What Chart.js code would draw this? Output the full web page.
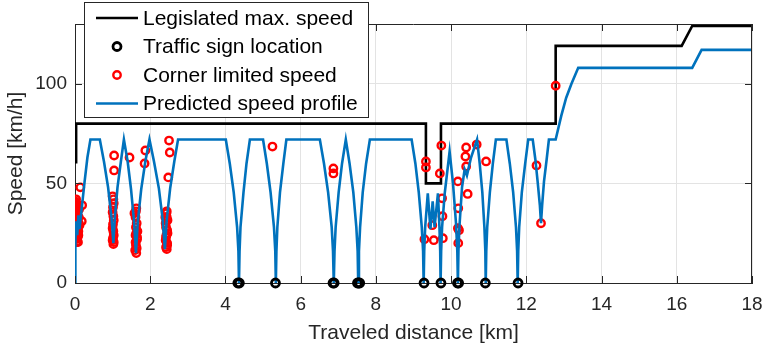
<!DOCTYPE html>
<html>
<head>
<meta charset="utf-8">
<title>Speed profile</title>
<script src="https://cdn.jsdelivr.net/npm/chart.js@4.4.1/dist/chart.umd.min.js"></script>
<style>
    html, body { margin: 0; padding: 0; background: #fff; }
    #wrap { position: relative; width: 764px; height: 349px; }
</style>
</head>
<body>
<div id="wrap"><canvas id="speedChart" width="764" height="349"></canvas></div>
<script>
(function() {
    'use strict';

    // Legislated max. speed (step line)
    var legalX = [0.03, 0.03, 9.33, 9.33, 9.73, 9.73, 12.78, 12.78, 16.13, 16.41, 18];
    var legalY = [60, 80, 80, 50, 50, 80, 80, 119, 119, 129, 129];

    // Predicted speed profile
    var profileX = [
        0, 0.01, 0.03, 0.06, 0.09, 0.12, 0.17, 0.25, 0.33, 0.41,
        0.66, 0.77, 0.88, 0.97, 1.02, 1.06, 1.13, 1.22, 1.30,
        1.40, 1.49, 1.57, 1.62, 1.67, 1.76, 1.87, 1.98,
        2.10, 2.23, 2.33, 2.39, 2.44, 2.53, 2.64, 2.74,
        4.01, 4.115, 4.22, 4.31, 4.345, 4.36, 4.375, 4.40, 4.48, 4.56, 4.65,
        5.00, 5.10, 5.20, 5.29, 5.325, 5.34, 5.355, 5.38, 5.45, 5.54, 5.62,
        6.51, 6.62, 6.73, 6.825, 6.86, 6.88, 6.90, 6.93, 7.01, 7.10, 7.20,
        7.30, 7.40, 7.48, 7.515, 7.53, 7.55, 7.58, 7.65, 7.74, 7.84,
        8.95, 9.05, 9.14, 9.22, 9.255, 9.27, 9.285, 9.31, 9.38,
        9.45, 9.51, 9.56, 9.65, 9.69, 9.71, 9.72, 9.735, 9.76, 9.83, 9.96,
        10.05, 10.13, 10.165, 10.18, 10.195, 10.22, 10.29, 10.36, 10.42, 10.53, 10.69,
        10.76, 10.83, 10.885, 10.91, 10.92, 10.935, 10.96, 11.03, 11.11, 11.19,
        11.47, 11.56, 11.65, 11.725, 11.755, 11.77, 11.785, 11.81, 11.88, 11.97, 12.05,
        12.17, 12.24, 12.30, 12.36, 12.39, 12.42, 12.47, 12.54, 12.60,
        12.78, 12.93, 13.06, 13.20, 13.38, 16.41, 16.66, 18
    ];
    var profileY = [
        0, 20, 31, 24, 34, 27, 36, 50, 63, 72,
        72, 61, 48, 33, 20, 33, 48, 61, 72,
        61, 47, 31, 15, 31, 47, 61, 72,
        61, 47.5, 32, 17, 32, 47.5, 61, 72,
        72, 60, 45.5, 28, 16, 0, 16, 28, 45.5, 60, 72,
        72, 60, 45.5, 28, 16, 0, 16, 28, 45.5, 60, 72,
        72, 60, 45.5, 28, 16, 0, 16, 28, 45.5, 60, 72,
        60, 45.5, 28, 16, 0, 16, 28, 45.5, 60, 72,
        72, 60, 45.5, 28, 16, 0, 16, 28, 45,
        27, 41, 28, 45, 28, 16, 0, 16, 28, 45, 66,
        50, 30, 16, 0, 16, 28, 48, 57, 54, 63, 72,
        60, 45.5, 28, 16, 0, 16, 28, 45.5, 60, 72,
        72, 60, 45.5, 28, 16, 0, 16, 28, 45.5, 60, 72,
        72, 62, 51, 39, 30, 39, 51, 62, 72,
        72, 84, 93, 100, 108, 108, 117, 117
    ];

    // Traffic sign locations (speed 0)
    var signX = [4.33, 4.37, 5.33, 6.86, 6.89, 7.51, 7.54, 7.57, 9.28, 9.73, 10.17, 10.2, 10.91, 11.78];

    // Corner limited speeds
    var cornerX = [
        0.00, 0.03, 0.05, 0.01, 0.04, 0.00, 0.03, 0.06, 0.02, 0.05, 0.08, 0.10, 0.09, 0.07, 0.14, 0.19, 0.18,
        0.00, 0.02, 0.04, 0.00, 0.03, 0.06, 0.01, 0.04, 0.07, 0.02, 0.05, 0.09, 0.10, 0.12, 0.11, 0.03, 0.08,
        1.04, 1.04, 1.00, 1.03, 1.00, 1.03, 1.00, 1.03, 1.00, 1.02, 1.45,
        1.01, 1.02, 1.01, 1.02, 1.01, 1.03, 1.02,
        1.63, 1.58, 1.62, 1.66, 1.61, 1.65, 1.62, 1.60, 1.63, 1.87, 1.85,
        1.61, 1.64, 1.63, 1.61, 1.64, 1.62, 1.65,
        2.50, 2.52, 2.48, 2.43, 2.40, 2.46, 2.42, 2.46, 2.42, 2.45, 2.42, 2.44,
        2.44, 2.41, 2.45, 2.43, 2.41, 2.45, 2.44,
        5.25, 6.87, 6.87,
        9.33, 9.33, 9.74, 9.70, 9.76, 9.77, 9.78, 9.29, 9.54, 9.50,
        10.18, 10.19, 10.18, 10.21, 10.19, 10.40, 10.38, 10.40, 10.44, 10.68, 10.93,
        12.27, 12.39, 12.78
    ];
    var cornerY = [
        41, 39.5, 37, 34.5, 32, 29.5, 27.5, 25.5, 23, 21, 20.5, 30, 24, 34, 48, 39, 31,
        40, 38, 36, 33, 31, 29, 27, 25, 23, 22, 20.5, 26, 33, 29, 37, 42, 39,
        64, 56.5, 43.5, 40, 35.5, 31.5, 27.5, 24, 21.5, 19.5, 63,
        38, 33.5, 29.5, 26, 22.5, 20.5, 42,
        37.5, 35, 28, 26, 24, 22, 19, 16.5, 15, 66.5, 60,
        33, 30, 25, 20.5, 17.5, 36, 23,
        71.5, 65.5, 53, 35, 33, 31.5, 28, 25, 23, 20, 18, 17,
        33, 30, 26.5, 24, 21.5, 19, 36,
        68.5, 57.5, 55,
        61, 58, 69, 55, 42.5, 33.5, 22.5, 22, 21.5, 29,
        51, 37.5, 27.5, 26.5, 20, 68, 63.5, 58.5, 44.7, 69.5, 61,
        59, 30, 99
    ];

    var yTicks = [0, 50, 100];

    var FONT = "'Liberation Sans', Arial, Helvetica, sans-serif";
    var AXIS = '#262626';

    function toPoints(xs, ys) {
        return xs.map(function(x, i) { return { x: x, y: ys[i] }; });
    }

    // MATLAB-like box: top/right edges and inward tick marks
    var framePlugin = {
        id: 'frame',
        afterDraw: function(chart) {
            var ctx = chart.ctx;
            var a = chart.chartArea;
            var xs = chart.scales.x;
            var ys = chart.scales.y;
            var len = 7;
            ctx.save();
            ctx.strokeStyle = AXIS;
            ctx.lineWidth = 1;
            ctx.beginPath();
            ctx.moveTo(a.left, a.top + 0.5);
            ctx.lineTo(a.right, a.top + 0.5);
            ctx.moveTo(a.right - 0.5, a.top);
            ctx.lineTo(a.right - 0.5, a.bottom);
            xs.ticks.forEach(function(t) {
                var px = Math.round(xs.getPixelForValue(t.value)) + 0.5;
                ctx.moveTo(px, a.bottom);
                ctx.lineTo(px, a.bottom - len);
                ctx.moveTo(px, a.top);
                ctx.lineTo(px, a.top + len);
            });
            ys.ticks.forEach(function(t) {
                var py = Math.round(ys.getPixelForValue(t.value)) + 0.5;
                ctx.moveTo(a.left, py);
                ctx.lineTo(a.left + len, py);
                ctx.moveTo(a.right, py);
                ctx.lineTo(a.right - len, py);
            });
            ctx.stroke();
            ctx.restore();
        }
    };

    // Boxed legend sitting over the upper-left corner of the axes
    var legendPlugin = {
        id: 'boxLegend',
        afterDraw: function(chart) {
            var ctx = chart.ctx;
            var a = chart.chartArea;
            var x0 = a.left + 9, y0 = 2, w = 285, h = 116;
            ctx.save();
            ctx.fillStyle = '#fff';
            ctx.fillRect(x0, y0, w, h);
            ctx.strokeStyle = AXIS;
            ctx.lineWidth = 1;
            ctx.strokeRect(x0 + 0.5, y0 + 0.5, w - 1, h - 1);

            chart.data.datasets.forEach(function(ds, i) {
                var cy = y0 + 16 + i * 28.5;
                if (ds.showLine === false) {
                    ctx.beginPath();
                    ctx.arc(x0 + 33, cy, ds.pointRadius, 0, Math.PI * 2);
                    ctx.strokeStyle = ds.borderColor;
                    ctx.lineWidth = ds.borderWidth;
                    ctx.stroke();
                } else {
                    ctx.beginPath();
                    ctx.moveTo(x0 + 12, cy);
                    ctx.lineTo(x0 + 54, cy);
                    ctx.strokeStyle = ds.borderColor;
                    ctx.lineWidth = ds.borderWidth;
                    ctx.stroke();
                }
                ctx.fillStyle = '#000';
                ctx.font = '21px ' + FONT;
                ctx.textBaseline = 'middle';
                ctx.textAlign = 'left';
                ctx.fillText(ds.label, x0 + 59, cy + 1);
            });
            ctx.restore();
        }
    };

    function initChart() {
        var canvas = document.getElementById('speedChart');
        if (!canvas || typeof Chart === 'undefined') return;

        new Chart(canvas.getContext('2d'), {
            type: 'line',
            data: {
                datasets: [{
                    label: 'Legislated max. speed',
                    data: toPoints(legalX, legalY),
                    borderColor: '#000000',
                    borderWidth: 2.6,
                    pointRadius: 0,
                    tension: 0,
                    order: 4
                }, {
                    label: 'Traffic sign location',
                    data: toPoints(signX, signX.map(function() { return 0; })),
                    showLine: false,
                    borderColor: '#000000',
                    backgroundColor: 'rgba(0,0,0,0)',
                    pointRadius: 4,
                    borderWidth: 2.8,
                    clip: false,
                    order: 1
                }, {
                    label: 'Corner limited speed',
                    data: toPoints(cornerX, cornerY),
                    showLine: false,
                    borderColor: '#ff0000',
                    backgroundColor: 'rgba(0,0,0,0)',
                    pointRadius: 3.7,
                    borderWidth: 2.4,
                    order: 3
                }, {
                    label: 'Predicted speed profile',
                    data: toPoints(profileX, profileY),
                    borderColor: '#0072bd',
                    borderWidth: 2.6,
                    pointRadius: 0,
                    tension: 0,
                    order: 2
                }]
            },
            options: {
                responsive: false,
                devicePixelRatio: 1,
                animation: false,
                events: [],
                layout: { padding: { top: 24, right: 12, left: 0, bottom: 0 } },
                plugins: {
                    legend: { display: false },
                    tooltip: { enabled: false }
                },
                scales: {
                    x: {
                        type: 'linear',
                        min: 0,
                        max: 18,
                        afterFit: function(s) {
                            s.height = 66;
                            s.paddingLeft = 0;
                            s.paddingRight = 0;
                        },
                        ticks: {
                            stepSize: 2,
                            padding: 10,
                            maxRotation: 0,
                            autoSkip: false,
                            color: AXIS,
                            font: { family: FONT, size: 19 }
                        },
                        grid: { color: '#e3e3e3', drawTicks: false },
                        border: { color: AXIS, width: 1 },
                        title: {
                            display: true,
                            text: 'Traveled distance [km]',
                            color: AXIS,
                            font: { family: FONT, size: 21 },
                            padding: { top: 0, bottom: 3 }
                        }
                    },
                    y: {
                        min: 0,
                        max: 130,
                        afterFit: function(s) {
                            s.width = 75;
                            s.paddingTop = 0;
                            s.paddingBottom = 0;
                        },
                        afterBuildTicks: function(s) {
                            s.ticks = yTicks.map(function(v) { return { value: v }; });
                        },
                        ticks: {
                            padding: 8,
                            color: AXIS,
                            font: { family: FONT, size: 19 }
                        },
                        grid: { color: '#e3e3e3', drawTicks: false },
                        border: { color: AXIS, width: 1 },
                        title: {
                            display: true,
                            text: 'Speed [km/h]',
                            color: AXIS,
                            font: { family: FONT, size: 21 },
                            padding: { top: 4, bottom: 0 }
                        }
                    }
                }
            },
            plugins: [framePlugin, legendPlugin]
        });
    }

    document.addEventListener('DOMContentLoaded', initChart);
})();
</script>
</body>
</html>
